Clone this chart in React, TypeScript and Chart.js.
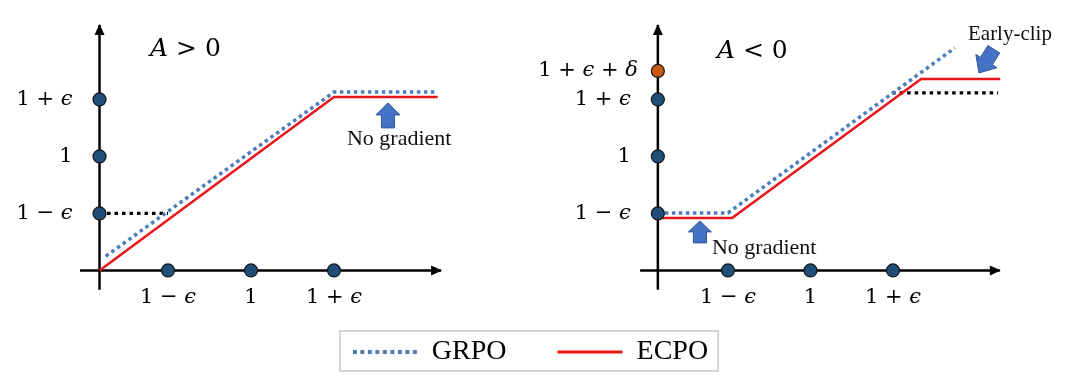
import React, { useEffect, useRef } from 'react';
import { Chart, registerables } from 'chart.js';

Chart.register(...registerables);

// ---------- tick values / labels ----------
const TICK_VALUES = [0.8, 1.0, 1.2];
const TICK_LABELS = ['1 − ϵ', '1', '1 + ϵ'];
const EXTRA_TICK_VALUES = [1.3];
const EXTRA_TICK_LABELS = ['1 + ϵ + δ'];

// ---------- axes (left panel: A > 0, scale x) ----------
const LEFT_ORIGIN_X = 0.635;
const ORIGIN_Y = 0.6;
const LEFT_XAXIS_X = [0.588, 1.458];
const YAXIS_Y = [0.532, 1.461];

// ---------- axes (right panel: A < 0, scale x2) ----------
const RIGHT_ORIGIN_X = 0.63;
const RIGHT_XAXIS_X = [0.587, 1.459];

// ---------- series, A > 0 ----------
const POS_GRPO_X = [0.65, 1.2, 1.45];
const POS_GRPO_Y = [0.65, 1.226, 1.226];
const POS_ECPO_X = [0.635, 1.2, 1.45];
const POS_ECPO_Y = [0.6, 1.209, 1.209];
const POS_REF_X = [0.635, 0.8];
const POS_REF_Y = [0.8, 0.8];

// ---------- series, A < 0 ----------
const NEG_GRPO_X = [0.63, 0.8, 1.35];
const NEG_GRPO_Y = [0.802, 0.802, 1.381];
const NEG_ECPO_X = [0.63, 0.81, 1.268, 1.46];
const NEG_ECPO_Y = [0.784, 0.784, 1.272, 1.272];
const NEG_REF_X = [1.198, 1.455];
const NEG_REF_Y = [1.223, 1.223];

const pts = (xs: number[], ys: number[]) => xs.map((x, i) => ({ x, y: ys[i] }));
const vline = (x: number, ys: number[]) => ys.map((y) => ({ x, y }));
const hline = (xs: number[], y: number) => xs.map((x) => ({ x, y }));

const BLUE = '#4a7ebb';
const RED = '#e8161b';
const DOT = '#1f4e79';
const ORANGE = '#c55a11';

const line = (label: string, data: any[], xAxisID: string, color: string, width: number, dash: number[], extra: any = {}) => ({
  label,
  data,
  xAxisID,
  yAxisID: 'y',
  showLine: true,
  borderColor: color,
  backgroundColor: color,
  borderWidth: width,
  borderDash: dash,
  pointRadius: 0,
  pointHoverRadius: 0,
  tension: 0,
  fill: false,
  clip: false,
  ...extra,
});

const dots = (label: string, data: any[], xAxisID: string, color: string) => ({
  label,
  data,
  xAxisID,
  yAxisID: 'y',
  showLine: false,
  pointRadius: 6.5,
  pointHoverRadius: 6.5,
  pointBackgroundColor: color,
  pointBorderColor: '#141414',
  pointBorderWidth: 1.2,
  clip: false,
});

const NOTE_ARROWS = [
  { scale: 'x', x: 1.33, y: 1.188, angle: -90, length: 25, headLen: 12, headHalf: 12, shaftHalf: 6.5 },
  { scale: 'x2', x: 0.732, y: 0.774, angle: -90, length: 22, headLen: 11, headHalf: 11.5, shaftHalf: 6.5 },
  { scale: 'x2', x: 1.4085, y: 1.293, angle: 122, length: 28, headLen: 14, headHalf: 12.5, shaftHalf: 7 },
];
const NOTE_TEXTS = [
  { scale: 'x', x: 1.2313, y: 1.0614, text: 'No gradient', size: 22 },
  { scale: 'x2', x: 0.7612, y: 0.679, text: 'No gradient', size: 22 },
  { scale: 'x2', x: 1.3818, y: 1.4263, text: 'Early-clip', size: 21 },
];
const TITLES = [
  { scale: 'x', x: 0.7566, y: 1.3737, text: 'A > 0' },
  { scale: 'x2', x: 0.7733, y: 1.3667, text: 'A < 0' },
];

const ITALIC = 'ϵδA';
const mathFont = (size: number, it: boolean) => `${it ? 'italic ' : ''}${size}px 'DejaVu Serif', serif`;

function drawMath(ctx: CanvasRenderingContext2D, text: string, x: number, y: number, align: string, size: number) {
  const runs: { t: string; it: boolean; w: number }[] = [];
  for (const ch of text) {
    const it = ITALIC.includes(ch);
    if (runs.length && runs[runs.length - 1].it === it) runs[runs.length - 1].t += ch;
    else runs.push({ t: ch, it, w: 0 });
  }
  let total = 0;
  for (const r of runs) {
    ctx.font = mathFont(size, r.it);
    r.w = ctx.measureText(r.t).width;
    total += r.w;
  }
  let cx = align === 'right' ? x - total : align === 'center' ? x - total / 2 : x;
  ctx.textBaseline = 'middle';
  ctx.textAlign = 'left';
  ctx.fillStyle = '#000';
  for (const r of runs) {
    ctx.font = mathFont(size, r.it);
    ctx.fillText(r.t, cx, y);
    cx += r.w;
  }
}

const decorPlugin = {
  id: 'decor',
  afterDatasetsDraw(chart: any) {
    const ctx: CanvasRenderingContext2D = chart.ctx;
    const y = chart.scales.y;
    ctx.save();
    // axis arrow heads
    chart.data.datasets.forEach((ds: any, i: number) => {
      if (!ds.arrowEnd) return;
      const p = chart.getDatasetMeta(i).data;
      const a = p[p.length - 2];
      const b = p[p.length - 1];
      const ang = Math.atan2(b.y - a.y, b.x - a.x);
      const L = 10, H = 5;
      ctx.beginPath();
      ctx.moveTo(b.x + Math.cos(ang) * 1, b.y + Math.sin(ang) * 1);
      ctx.lineTo(b.x - Math.cos(ang) * L - Math.sin(ang) * H, b.y - Math.sin(ang) * L + Math.cos(ang) * H);
      ctx.lineTo(b.x - Math.cos(ang) * L + Math.sin(ang) * H, b.y - Math.sin(ang) * L - Math.cos(ang) * H);
      ctx.closePath();
      ctx.fillStyle = '#000';
      ctx.fill();
    });

    // tick labels
    const panels = [
      { sx: chart.scales.x, ox: LEFT_ORIGIN_X, vals: TICK_VALUES, labs: TICK_LABELS },
      { sx: chart.scales.x2, ox: RIGHT_ORIGIN_X, vals: [...TICK_VALUES, ...EXTRA_TICK_VALUES], labs: [...TICK_LABELS, ...EXTRA_TICK_LABELS] },
    ];
    panels.forEach((pn) => {
      const axX = pn.sx.getPixelForValue(pn.ox);
      const axY = y.getPixelForValue(ORIGIN_Y);
      pn.vals.forEach((v, j) => {
        const lab = pn.labs[j];
        const off = lab.length > 6 ? 20 : 27;
        drawMath(ctx, lab, axX - off, y.getPixelForValue(v), 'right', 21);
      });
      TICK_VALUES.forEach((v, j) => {
        drawMath(ctx, TICK_LABELS[j], pn.sx.getPixelForValue(v), axY + 27, 'center', 21);
      });
    });

    TITLES.forEach((t) => {
      drawMath(ctx, t.text, chart.scales[t.scale].getPixelForValue(t.x), y.getPixelForValue(t.y), 'left', 25);
    });

    // annotation arrows
    NOTE_ARROWS.forEach((n) => {
      const tx = chart.scales[n.scale].getPixelForValue(n.x);
      const ty = y.getPixelForValue(n.y);
      const r = (n.angle * Math.PI) / 180;
      const dx = Math.cos(r), dy = Math.sin(r);
      const nx = -dy, ny = dx;
      const bx = tx - dx * n.headLen, by = ty - dy * n.headLen;
      const ex = tx - dx * n.length, ey = ty - dy * n.length;
      ctx.beginPath();
      ctx.moveTo(tx, ty);
      ctx.lineTo(bx + nx * n.headHalf, by + ny * n.headHalf);
      ctx.lineTo(bx + nx * n.shaftHalf, by + ny * n.shaftHalf);
      ctx.lineTo(ex + nx * n.shaftHalf, ey + ny * n.shaftHalf);
      ctx.lineTo(ex - nx * n.shaftHalf, ey - ny * n.shaftHalf);
      ctx.lineTo(bx - nx * n.shaftHalf, by - ny * n.shaftHalf);
      ctx.lineTo(bx - nx * n.headHalf, by - ny * n.headHalf);
      ctx.closePath();
      ctx.fillStyle = '#4472c4';
      ctx.fill();
      ctx.strokeStyle = '#2f5597';
      ctx.lineWidth = 1;
      ctx.setLineDash([]);
      ctx.stroke();
    });

    NOTE_TEXTS.forEach((t) => {
      ctx.font = `${t.size}px 'Liberation Serif', 'Times New Roman', serif`;
      ctx.fillStyle = '#111';
      ctx.textAlign = 'left';
      ctx.textBaseline = 'middle';
      ctx.fillText(t.text, chart.scales[t.scale].getPixelForValue(t.x), y.getPixelForValue(t.y));
    });
    ctx.restore();
  },
  afterDraw(chart: any) {
    const lg = chart.legend;
    const hb = lg && lg.legendHitBoxes;
    if (!hb || !hb.length) return;
    const ctx: CanvasRenderingContext2D = chart.ctx;
    const last = hb[hb.length - 1];
    const l = hb[0].left - 13;
    const r = last.left + last.width + 10;
    const t = hb[0].top - 7;
    const b = hb[0].top + hb[0].height + 5;
    ctx.save();
    ctx.strokeStyle = '#c8c8c8';
    ctx.lineWidth = 1.5;
    ctx.setLineDash([]);
    ctx.strokeRect(l, t, r - l, b - t);
    ctx.restore();
  },
};

export default function App() {
  const ref = useRef<HTMLCanvasElement>(null);
  useEffect(() => {
    document.body.style.margin = '0';
    const datasets: any[] = [
      // dots (top)
      dots('ticks-left-y', vline(LEFT_ORIGIN_X, TICK_VALUES), 'x', DOT),
      dots('ticks-left-x', hline(TICK_VALUES, ORIGIN_Y), 'x', DOT),
      dots('ticks-right-y', vline(RIGHT_ORIGIN_X, TICK_VALUES), 'x2', DOT),
      dots('ticks-right-extra', vline(RIGHT_ORIGIN_X, EXTRA_TICK_VALUES), 'x2', ORANGE),
      dots('ticks-right-x', hline(TICK_VALUES, ORIGIN_Y), 'x2', DOT),
      // series
      line('GRPO', pts(POS_GRPO_X, POS_GRPO_Y), 'x', BLUE, 3.5, [3.5, 3.5], { inLegend: true }),
      line('ECPO', pts(POS_ECPO_X, POS_ECPO_Y), 'x', RED, 2.5, [], { inLegend: true }),
      line('GRPO (A<0)', pts(NEG_GRPO_X, NEG_GRPO_Y), 'x2', BLUE, 3.5, [3.5, 3.5]),
      line('ECPO (A<0)', pts(NEG_ECPO_X, NEG_ECPO_Y), 'x2', RED, 2.5, []),
      line('ref-left', pts(POS_REF_X, POS_REF_Y), 'x', '#000', 3.2, [3.5, 4]),
      line('ref-right', pts(NEG_REF_X, NEG_REF_Y), 'x2', '#000', 3.2, [3.5, 4]),
      // axes
      line('axis-left-x', hline(LEFT_XAXIS_X, ORIGIN_Y), 'x', '#000', 2.5, [], { arrowEnd: true }),
      line('axis-left-y', vline(LEFT_ORIGIN_X, YAXIS_Y), 'x', '#000', 2.5, [], { arrowEnd: true }),
      line('axis-right-x', hline(RIGHT_XAXIS_X, ORIGIN_Y), 'x2', '#000', 2.5, [], { arrowEnd: true }),
      line('axis-right-y', vline(RIGHT_ORIGIN_X, YAXIS_Y), 'x2', '#000', 2.5, [], { arrowEnd: true }),
    ];
    const chart = new Chart(ref.current as HTMLCanvasElement, {
      type: 'scatter',
      data: { datasets },
      options: {
        responsive: false,
        animation: false,
        devicePixelRatio: 1,
        events: [],
        layout: { autoPadding: false, padding: { left: 0, right: 19, top: 0, bottom: 14 } },
        scales: {
          x: { type: 'linear', display: false, min: 0.3952, max: 2.9518 },
          x2: { type: 'linear', axis: 'x', display: false, min: -0.9648, max: 1.6073 },
          y: { type: 'linear', display: false, min: 0.542, max: 1.549 },
        },
        plugins: {
          tooltip: { enabled: false },
          legend: {
            display: true,
            position: 'bottom',
            labels: {
              usePointStyle: true,
              pointStyle: 'line',
              pointStyleWidth: 65,
              padding: 51,
              color: '#000',
              font: { family: "'Liberation Serif', 'Times New Roman', serif", size: 28 },
              generateLabels: (ch: any) =>
                ch.data.datasets
                  .map((ds: any, i: number) => ({ ds, i }))
                  .filter(({ ds }: any) => ds.inLegend)
                  .map(({ ds, i }: any) => ({
                    text: ds.label,
                    datasetIndex: i,
                    fillStyle: ds.borderColor,
                    strokeStyle: ds.borderColor,
                    lineWidth: ds.borderDash.length ? 4 : 3,
                    lineDash: ds.borderDash.length ? [4, 3.5] : [],
                    lineCap: 'butt',
                    pointStyle: 'line',
                    fontColor: '#000',
                    hidden: false,
                  })),
            },
          },
        },
      } as any,
      plugins: [decorPlugin],
    });
    return () => chart.destroy();
  }, []);
  return <canvas ref={ref} width={1080} height={390} style={{ display: 'block' }} />;
}
